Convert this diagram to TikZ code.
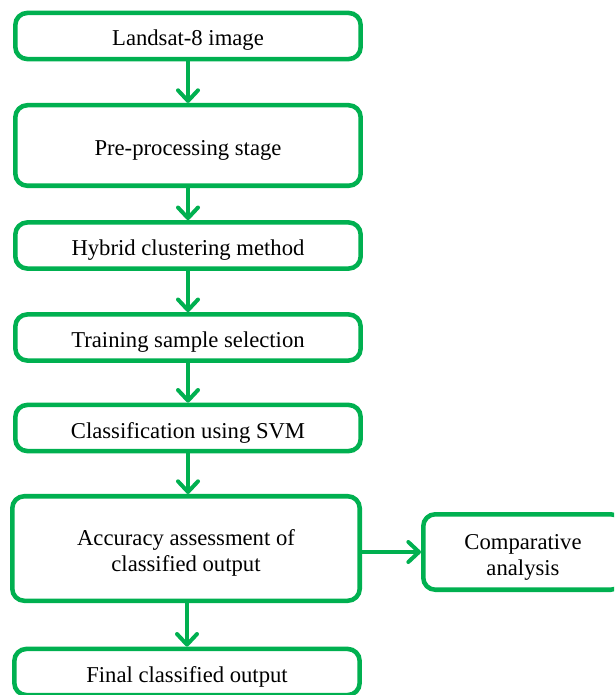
\documentclass[tikz,border=0pt]{standalone}
\usepackage{fontspec}
\setmainfont{Liberation Serif}
\usetikzlibrary{arrows.meta}
\definecolor{stagegreen}{HTML}{00B050}
\tikzset{
  stage/.style={draw=stagegreen,line width=3.4pt,rounded corners=9pt,fill=white,
    align=center,inner sep=2pt,minimum width=259pt,minimum height=34.6pt,
    text height=15pt,text depth=0pt,
    font=\fontsize{17}{19.5}\selectfont},
  twoline/.style={text height=34.5pt,text depth=0pt},
  flow/.style={draw=stagegreen,line width=3pt,line cap=round,
    -{Straight Barb[length=8pt,width=15pt,round]}}
}
\begin{document}
\begin{tikzpicture}[x=0.75pt,y=-0.75pt]
        \useasboundingbox(0,0)rectangle(614,695);
        \clip(0,0)rectangle(614,695);
        % main column
        \node[stage](landsat)at(188,36){Landsat-8 image};
        \node[stage,minimum height=60.4pt](preproc)at(188,145.5){Pre-processing stage};
        \node[stage](hybrid)at(188,245.5){Hybrid clustering method};
        \node[stage](training)at(188,337.5){Training sample selection};
        \node[stage](svm)at(188,428){Classification using SVM};
        \node[stage,twoline,minimum width=260.6pt,minimum height=78.4pt](accuracy)at(186,548.5){Accuracy assessment of\\classified output};
        \node[stage](final)at(187,672){Final classified output};
        % side box
        \node[stage,twoline,minimum width=149.6pt,minimum height=56.6pt](compare)at(523,552){Comparative\\analysis};
        % connectors
        \draw[flow](landsat)--(preproc);
        \draw[flow](preproc)--(hybrid);
        \draw[flow](hybrid)--(training);
        \draw[flow](training)--(svm);
        \draw[flow](svm.south)--(svm.south|-accuracy.north);
        \draw[flow](accuracy.south-|final.north)--(final.north);
        \draw[flow](accuracy.east|-compare.west)--(compare.west);
    \end{tikzpicture}
\end{document}
